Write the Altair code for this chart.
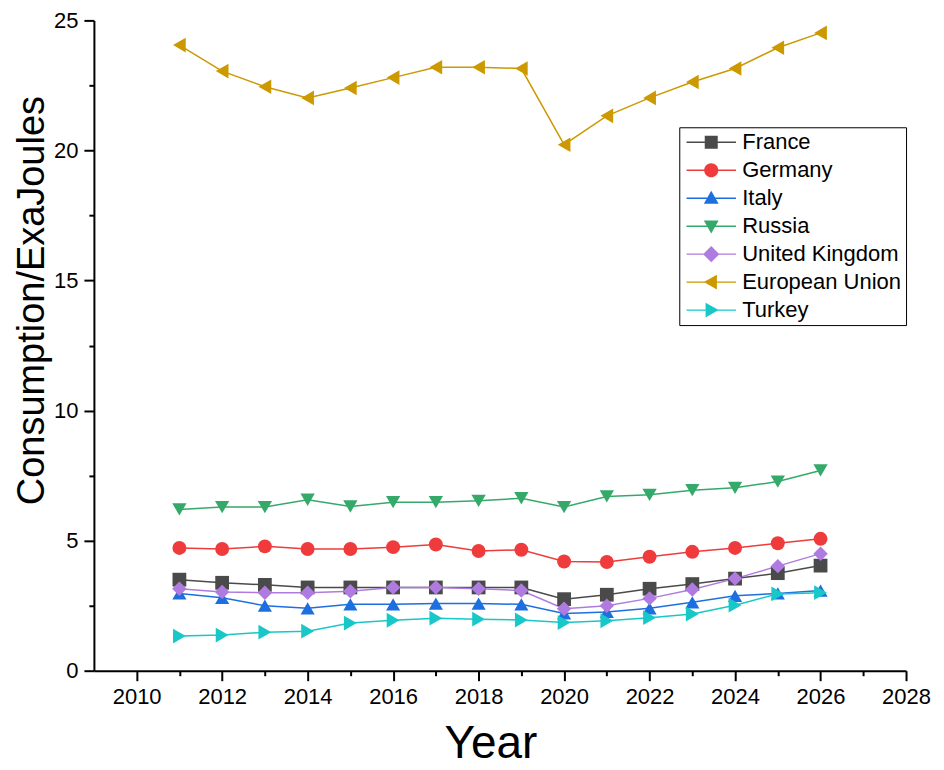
import altair as alt
import pandas as pd

years = list(range(2011, 2027))
countries = ["France", "Germany", "Italy", "Russia", "United Kingdom", "European Union", "Turkey"]

france = [3.5, 3.38, 3.3, 3.2, 3.2, 3.2, 3.2, 3.2, 3.2, 2.75, 2.92, 3.15, 3.33, 3.54, 3.75, 4.04]
germany = [4.72, 4.68, 4.78, 4.68, 4.68, 4.75, 4.85, 4.6, 4.65, 4.2, 4.18, 4.38, 4.57, 4.72, 4.9, 5.07]
italy = [2.97, 2.8, 2.5, 2.4, 2.55, 2.55, 2.58, 2.58, 2.55, 2.2, 2.26, 2.4, 2.63, 2.88, 2.97, 3.08]
russia = [6.2, 6.29, 6.29, 6.57, 6.31, 6.48, 6.48, 6.53, 6.63, 6.29, 6.7, 6.76, 6.94, 7.03, 7.27, 7.7]
uk = [3.15, 3.03, 3.0, 3.0, 3.05, 3.2, 3.2, 3.15, 3.08, 2.38, 2.5, 2.78, 3.12, 3.54, 4.02, 4.5]
eu = [24.05, 23.05, 22.45, 22.02, 22.4, 22.8, 23.2, 23.2, 23.15, 20.22, 21.33, 22.02, 22.63, 23.15, 23.95, 24.52]
turkey = [1.33, 1.37, 1.48, 1.52, 1.83, 1.94, 2.02, 1.98, 1.95, 1.85, 1.92, 2.04, 2.18, 2.52, 2.95, 3.0]

series = [france, germany, italy, russia, uk, eu, turkey]
colors = ["#4a4a4a", "#ef3b3b", "#1d6fe0", "#35a96a", "#b07be0", "#cc9900", "#18c8c8"]
shapes = ["square", "circle", "triangle-up", "triangle-down", "diamond", "triangle-left", "triangle-right"]
sizes = [190, 220, 250, 250, 290, 250, 250]

x_ticks = list(range(2010, 2029))
y_ticks = [i * 2.5 for i in range(11)]

LINE = "M-3.5,-0.1H3.5V0.1H-3.5Z "
legend_paths = [
    LINE + "M-0.92,-0.92H0.92V0.92H-0.92Z",
    LINE + "M1,0A1,1,0,1,1,-1,0A1,1,0,1,1,1,0Z",
    LINE + "M0,-1.05L1.05,0.8L-1.05,0.8Z",
    LINE + "M0,1.05L-1.05,-0.8L1.05,-0.8Z",
    LINE + "M0,-1.15L1.15,0L0,1.15L-1.15,0Z",
    LINE + "M-1.05,0L0.8,-1.05L0.8,1.05Z",
    LINE + "M1.05,0L-0.8,1.05L-0.8,-1.05Z",
]

rows = []
for c, vals in zip(countries, series):
    for yr, v in zip(years, vals):
        rows.append({"Country": c, "Year": yr, "Value": v, "idx": countries.index(c)})
df = pd.DataFrame(rows)

FONT = "Liberation Sans"

x_enc = alt.X(
    "Year:Q",
    scale=alt.Scale(domain=[2009, 2028], nice=False, zero=False),
    axis=alt.Axis(
        title="Year", values=x_ticks,
        labelExpr="datum.value % 2 === 0 ? datum.label : ''",
        format="d",
        tickSize={"condition": {"test": "datum.value % 2 === 0", "value": 10}, "value": 5},
        labelFontSize=22, titleFontSize=46, labelPadding=6, titlePadding=14,
        labelFlush=False, titleX=397,
    ),
)
y_enc = alt.Y(
    "Value:Q",
    scale=alt.Scale(domain=[0, 25], nice=False),
    axis=alt.Axis(
        title="Consumption/ExaJoules", values=y_ticks,
        labelExpr="datum.value % 5 === 0 ? datum.label : ''",
        tickSize={"condition": {"test": "datum.value % 5 === 0", "value": 10}, "value": 5},
        labelFontSize=22, titleFontSize=38, labelPadding=6, titlePadding=2,
        labelFlush=False, titleY=280,
    ),
)

color_scale = alt.Scale(domain=countries, range=colors)

lines = alt.Chart(df).mark_line(strokeWidth=1.5).encode(
    x=x_enc, y=y_enc,
    color=alt.Color("Country:N", scale=color_scale, legend=None),
    detail="Country:N",
)

points = alt.Chart(df).mark_point(filled=True, opacity=1).encode(
    x=x_enc, y=y_enc,
    color=alt.Color("Country:N", scale=color_scale, legend=None),
    shape=alt.Shape("Country:N", scale=alt.Scale(domain=countries, range=shapes), legend=None),
    size=alt.Size("Country:N", scale=alt.Scale(domain=countries, range=sizes), legend=None),
    order="idx:Q",
)

leg = alt.Legend(
    title=None, orient="none", legendX=586, legendY=107,
    strokeColor="black", fillColor="white", padding=4,
    symbolSize=200, symbolOffset=17, labelOffset=20,
    labelFontSize=22, labelFont=FONT, labelColor="black",
    rowPadding=6, symbolStrokeWidth=0,
)

legend_layer = alt.Chart(df).transform_filter("false").mark_point(filled=True, opacity=1).encode(
    x=x_enc, y=y_enc,
    color=alt.Color("Country:N", scale=alt.Scale(domain=countries, range=colors), legend=leg),
    shape=alt.Shape("Country:N", scale=alt.Scale(domain=countries, range=legend_paths), legend=leg),
)

chart = alt.layer(lines, points, legend_layer).resolve_scale(
    color="independent", shape="independent"
).properties(
    width=813, height=651,
    autosize=alt.AutoSizeParams(type="none"),
    padding={"left": 86, "top": 12, "right": 30, "bottom": 98},
).configure_view(stroke=None).configure_axis(
    grid=False, domainColor="black", domainWidth=2, tickColor="black", tickWidth=2,
    labelColor="black", titleColor="black", labelFont=FONT, titleFont=FONT,
    titleFontWeight="normal",
)

chart.save("out.html", embed_options={"renderer": "svg", "actions": False})
